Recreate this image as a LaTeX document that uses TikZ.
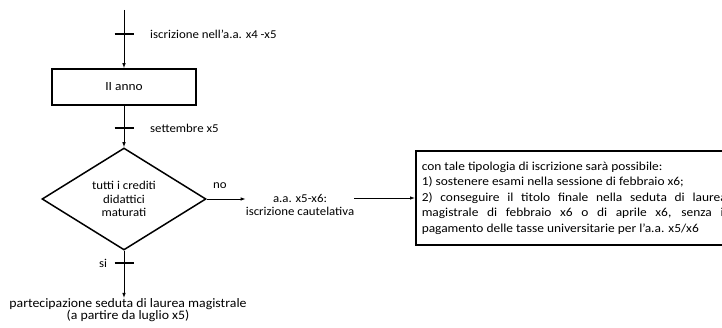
\documentclass[tikz,border=0pt]{standalone}
\usepackage{fontspec}
\setmainfont[FakeStretch=1.07]{Carlito}
\newfontfamily\boxfont[FakeStretch=1.1]{Carlito}
\usetikzlibrary{arrows.meta,shapes.geometric}
\begin{document}
\begin{tikzpicture}[x=1pt,y=-1pt,
  conn/.style={line width=0.8pt,-{Latex[length=5pt,width=3.5pt]}},
  tick/.style={line width=1.6pt},
  lbl/.style={font=\fontsize{12}{12.5}\selectfont,inner sep=0pt},
  boxst/.style={draw,line width=1.5pt,minimum width=144pt,minimum height=36pt,font=\fontsize{12.5}{13}\selectfont},
  dia/.style={draw,line width=1.5pt,diamond,aspect=1.6,minimum width=164pt,minimum height=102pt,inner sep=0pt,align=center,font=\fontsize{12}{13.2}\selectfont}]
\useasboundingbox (0,0) rectangle (722,328);
\coordinate (top) at (124,10);
\node[boxst] (anno) at (124,87) {II anno};
\node[dia] (q) at (124,199) {tutti i crediti\\didattici\\maturati};
\node[lbl,align=center] (cau) at (300,205) {a.a. x5-x6:\\iscrizione cautelativa};
\node[lbl,align=center,anchor=north,font=\fontsize{12.9}{12.8}\selectfont] (part) at (128,298) {partecipazione seduta di laurea magistrale\\(a partire da luglio x5)};
\node[draw,line width=1.5pt,anchor=west,minimum height=94pt,inner sep=0pt] (info) at (415,198)
  {\hspace*{6pt}\parbox{305pt}{\boxfont\fontsize{12.2}{15.5}\selectfont con tale tipologia di iscrizione sarà possibile:\\
  1) sostenere esami nella sessione di febbraio x6;\\
  2) conseguire il titolo finale nella seduta di laurea\linebreak magistrale di febbraio x6 o di aprile x6, senza il\linebreak pagamento delle tasse universitarie per l’a.a. x5/x6\hfill\null}\hspace*{6pt}};
% connectors
\draw[conn] (top) -- (anno.north);
\draw[conn] (anno.south) -- (q.north);
\draw[conn] (q.east) -- (cau.west |- q.east);
\draw[conn] (q.south) -- (q.south |- part.north);
\draw[conn] (cau.east |- info.west) -- (info.west);
% ticks
\coordinate (t1) at (124,34);
\coordinate (t2) at (124,128);
\coordinate (t3) at (124,263);
\foreach \t in {t1,t2,t3} \draw[tick] ([xshift=-9.5pt]\t) -- ([xshift=9.5pt]\t);
\node[lbl,anchor=west] (l1) at (150,34) {iscrizione nell'a.a. x4 -x5};
\node[lbl,anchor=west] (l2) at (150,128) {settembre x5};
\node[lbl] (l3) at (103,263) {si};
\node[lbl] (l4) at (220,186) {no};
\end{tikzpicture}
\end{document}
